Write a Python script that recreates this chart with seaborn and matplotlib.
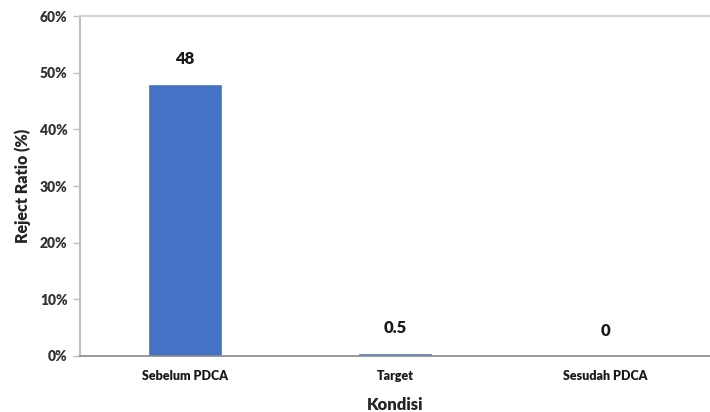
import numpy as np
import pandas as pd
import matplotlib
matplotlib.use("Agg")
import matplotlib.pyplot as plt
import seaborn as sns

kondisi = ["Sebelum PDCA", "Target", "Sesudah PDCA"]
reject_ratio = [48, 0.5, 0]
y_ticks = [0, 10, 20, 30, 40, 50, 60]

data = pd.DataFrame({"Kondisi": kondisi, "Reject Ratio": reject_ratio})

sns.set_style("white")
plt.rcParams["font.family"] = ["Lato", "DejaVu Sans"]
W = "heavy"

fig = plt.figure(figsize=(7.1, 4.12), dpi=100)
ax = fig.add_axes([0.1127, 0.136, 0.8873, 0.825])

sns.barplot(data=data, x="Kondisi", y="Reject Ratio", color="#4472C4",
            width=0.35, saturation=1, ax=ax)

ax.bar_label(ax.containers[0], labels=[f"{v:g}" for v in reject_ratio],
             padding=12, fontsize=12, fontweight=W, color="#1a1a1a")

ax.set_ylim(0, 60)
ax.set_yticks(y_ticks)
ax.set_yticklabels([f"{t}%" for t in y_ticks], fontsize=10, fontweight=W, color="#333333")
for lab in ax.get_xticklabels():
    lab.set_fontsize(9)
    lab.set_fontweight(W)
    lab.set_color("#1a1a1a")

ax.set_xlabel("Kondisi", fontsize=12, fontweight=W, labelpad=11)
ax.set_ylabel("Reject Ratio (%)", fontsize=11.5, fontweight=W, labelpad=6)

ax.tick_params(axis="y", which="major", length=5, width=1, color="#BFBFBF", left=True, pad=4)
ax.tick_params(axis="x", length=0, pad=10)

ax.spines["right"].set_visible(False)
ax.spines["top"].set_color("#CCCCCC")
ax.spines["top"].set_linewidth(1.2)
ax.spines["left"].set_color("#BFBFBF")
ax.spines["left"].set_linewidth(1.5)
ax.spines["bottom"].set_color("#888888")
ax.spines["bottom"].set_linewidth(1.2)

fig.savefig("out.png", dpi=100)
